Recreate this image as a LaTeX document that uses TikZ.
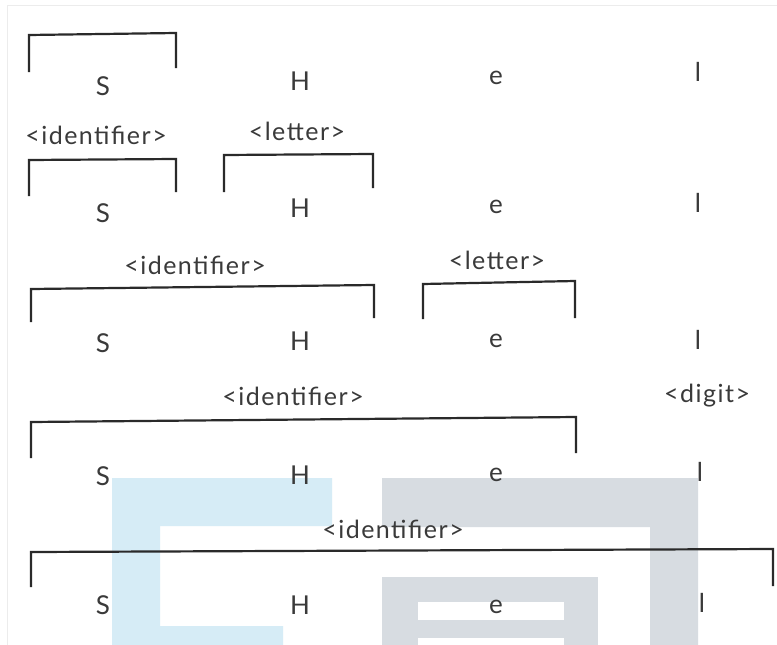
\documentclass[tikz,border=0pt]{standalone}
\usepackage{fontspec}
\setmainfont{Lato}
\definecolor{ink}{HTML}{2A2A2A}
\definecolor{txt}{HTML}{3A3A3A}
\definecolor{wmblue}{HTML}{D6ECF6}
\definecolor{wmgray}{HTML}{D7DCE1}
\definecolor{frame}{HTML}{ECECEC}
\begin{document}
\begin{tikzpicture}[x=1pt,y=-1pt,
  sym/.style={inner sep=0pt,text=txt,font=\fontsize{26}{26}\selectfont},
  lbl/.style={inner sep=0pt,text=txt,font=\fontsize{25}{25}\selectfont\addfontfeatures{LetterSpace=6}},
  brk/.style={draw=ink,line width=2.2pt,line join=miter}]
\useasboundingbox (0,0) rectangle (777,645);
\fill[white] (0,0) rectangle (777,645);
% watermark
\fill[wmblue] (112,478) -- (332,478) -- (332,526) -- (160,526) -- (160,626) -- (283,626) -- (283,645) -- (112,645) -- cycle;
\fill[wmgray] (382,478) -- (698,478) -- (698,645) -- (650,645) -- (650,527) -- (382,527) -- cycle;
\fill[wmgray] (382,577) rectangle (598,645);
\fill[white] (418,602) rectangle (564,620);
\fill[white] (418,638) rectangle (564,645);
% frame
\draw[frame,line width=1pt] (7,645) -- (7,5) -- (777,5);
% row 1
\node[sym] (s1) at (103,86) {S};
\node[sym] (h1) at (300,81) {H};
\node[sym] (e1) at (496,78) {e};
\node[sym] (l1) at (698,72) {l};
\draw[brk] (29,72) -- (29,35) -- (176,33) -- (176,68);
% row 2
\node[lbl] (id2) at (96,135) {<identifier>};
\node[lbl] (lt2) at (297,131) {<letter>};
\draw[brk] (29,196) -- (29,160) -- (176,159) -- (176,192);
\draw[brk] (224,192) -- (224,155) -- (373,154) -- (373,188);
\node[sym] (s2) at (103,213) {S};
\node[sym] (h2) at (300,208) {H};
\node[sym] (e2) at (496,207) {e};
\node[sym] (l2) at (698,203) {l};
% row 3
\node[lbl] (id3) at (195,265) {<identifier>};
\node[lbl] (lt3) at (497,260) {<letter>};
\draw[brk] (31,322) -- (31,289) -- (374,285) -- (374,318);
\draw[brk] (423,319) -- (423,284) -- (575,281) -- (575,318);
\node[sym] (s3) at (103,343) {S};
\node[sym] (h3) at (300,341) {H};
\node[sym] (e3) at (496,341) {e};
\node[sym] (l3) at (698,340) {l};
% row 4
\node[lbl] (id4) at (293,396) {<identifier>};
\node[lbl] (dg4) at (707,396) {<digit>};
\draw[brk] (31,458) -- (31,422) -- (576,417) -- (576,453);
\node[sym] (s4) at (103,476) {S};
\node[sym] (h4) at (300,475) {H};
\node[sym] (e4) at (496,475) {e};
\node[sym] (l4) at (700,472) {l};
% row 5
\node[lbl] (id5) at (393,529) {<identifier>};
\draw[brk] (31,587) -- (31,552) -- (773,549) -- (773,586);
\node[sym] (s5) at (103,605) {S};
\node[sym] (h5) at (300,605) {H};
\node[sym] (e5) at (496,607) {e};
\node[sym] (l5) at (702,603) {l};
\end{tikzpicture}
\end{document}
